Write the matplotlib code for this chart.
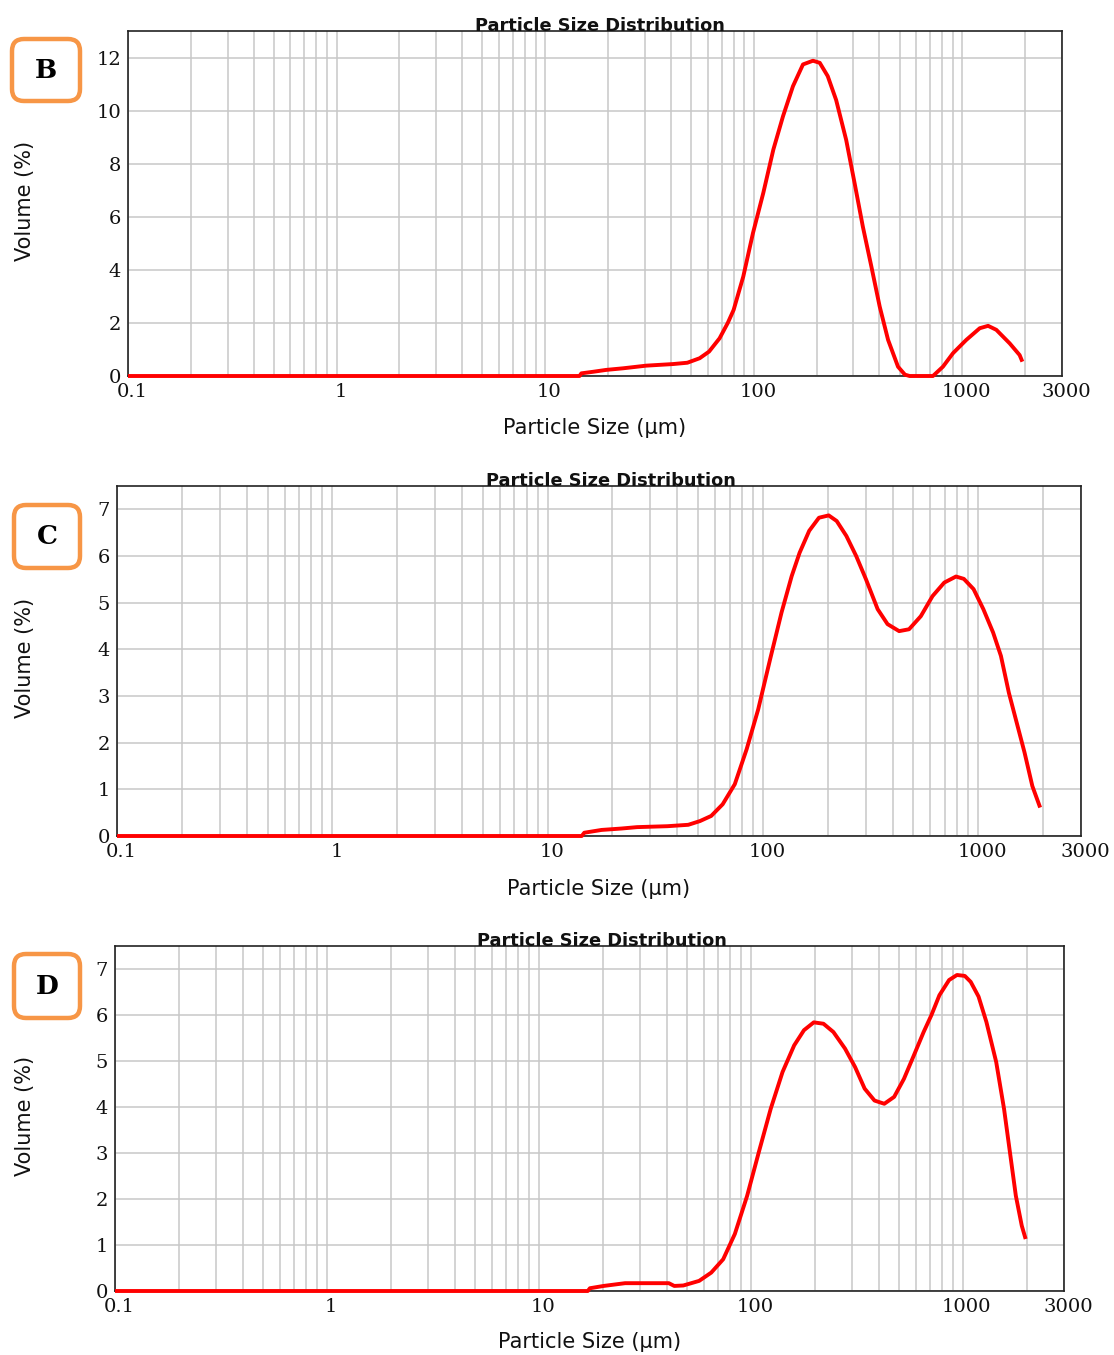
import matplotlib
matplotlib.use("Agg")
import matplotlib.pyplot as plt
import matplotlib.transforms as mtransforms
from matplotlib.patches import FancyBboxPatch
from matplotlib.ticker import LogLocator, NullFormatter

# particle size (um) / volume (%)
size_b = [0.1, 14.6, 14.9, 17, 19.6, 23.6, 30.5, 41, 48, 55, 61, 68.5, 75, 80, 89, 99,
          111, 124, 138, 154, 172, 192, 207, 226, 248, 277, 304, 333, 366, 401, 440,
          491, 530, 558, 722, 806, 901, 1043, 1210, 1327, 1453, 1684, 1879, 1937]
vol_b = [0, 0, 0.1, 0.16, 0.23, 0.29, 0.39, 0.45, 0.5, 0.67, 0.92, 1.42, 2.0, 2.49, 3.75, 5.38,
         6.9, 8.53, 9.79, 10.92, 11.74, 11.88, 11.8, 11.3, 10.4, 8.9, 7.27, 5.63, 4.12, 2.62, 1.36,
         0.35, 0.05, 0, 0, 0.35, 0.86, 1.36, 1.8, 1.89, 1.74, 1.23, 0.79, 0.54]

size_c = [0.1, 14.4, 14.8, 17.8, 22, 26, 36, 45, 51, 57.5, 65, 74, 84, 95, 108, 122, 136,
          148, 164, 182, 202, 220, 244, 271, 301, 341, 379, 429, 477, 541, 613, 695, 788,
          857, 951, 1056, 1172, 1274, 1387, 1508, 1640, 1783, 1938]
vol_c = [0, 0, 0.07, 0.13, 0.16, 0.19, 0.21, 0.24, 0.32, 0.43, 0.68, 1.11, 1.86, 2.71, 3.79, 4.79, 5.57,
         6.07, 6.54, 6.82, 6.87, 6.75, 6.43, 6.0, 5.5, 4.86, 4.54, 4.39, 4.43, 4.71, 5.14, 5.43, 5.56,
         5.51, 5.29, 4.86, 4.36, 3.86, 3.07, 2.43, 1.79, 1.07, 0.61]

size_d = [0.1, 17, 17.4, 20.2, 25.5, 33, 41, 43.5, 48, 57, 65, 74, 84, 96, 109, 124, 141,
          160, 178, 198, 220, 245, 278, 310, 344, 383, 426, 474, 527, 587, 653, 711, 775,
          861, 938, 1021, 1089, 1186, 1291, 1436, 1564, 1667, 1778, 1896, 1978]
vol_d = [0, 0, 0.06, 0.11, 0.17, 0.17, 0.17, 0.11, 0.12, 0.22, 0.4, 0.69, 1.24, 2.07, 3.02, 3.96, 4.76,
         5.34, 5.67, 5.84, 5.81, 5.63, 5.27, 4.87, 4.4, 4.14, 4.07, 4.22, 4.61, 5.12, 5.63, 6.0, 6.43,
         6.76, 6.87, 6.85, 6.72, 6.4, 5.85, 4.98, 3.96, 3.02, 2.07, 1.42, 1.13]

x_ticks = [0.1, 1, 10, 100, 1000, 3000]
x_tick_labels = ["0.1", "1", "10", "100", "1000", "3000"]
y_ticks_b = [0, 2, 4, 6, 8, 10, 12]
y_ticks_cd = [0, 1, 2, 3, 4, 5, 6, 7]
letters = ["B", "C", "D"]

W, H = 1114, 1355
fig = plt.figure(figsize=(W / 100, H / 100), dpi=100)


def px_rect(left, top, right, bottom):
    return [left / W, 1 - bottom / H, (right - left) / W, (bottom - top) / H]


def draw_panel(ax, sizes, vols, yticks, ymax, title_x):
    ax.set_xscale("log")
    ax.set_xlim(0.1, 3000)
    ax.set_ylim(0, ymax)
    ax.xaxis.set_minor_locator(LogLocator(base=10, subs=range(2, 10), numticks=20))
    ax.xaxis.set_minor_formatter(NullFormatter())
    ax.set_xticks(x_ticks)
    ax.set_xticklabels(x_tick_labels)
    ax.set_yticks(yticks)
    ax.grid(True, which="both", axis="x", color="#c8c8c8", linewidth=1.1)
    ax.grid(True, which="major", axis="y", color="#c8c8c8", linewidth=1.1)
    ax.set_axisbelow(True)
    ax.tick_params(which="both", length=0, labelsize=14, colors="#111111")
    ax.tick_params(axis="x", pad=5)
    ax.tick_params(axis="y", pad=5)
    for lbl in ax.get_xticklabels() + ax.get_yticklabels():
        lbl.set_fontfamily("DejaVu Serif")
    shift = mtransforms.ScaledTranslation(0.04, 0, fig.dpi_scale_trans)
    for lbl in ax.get_xticklabels():
        lbl.set_transform(lbl.get_transform() + shift)
    for sp in ax.spines.values():
        sp.set_color("#222222")
        sp.set_linewidth(1.2)
    ax.plot(sizes, vols, color="#ff0000", linewidth=2.8, clip_on=False,
            solid_joinstyle="round", solid_capstyle="butt", zorder=3)
    ax.text(title_x, 1.0, "Particle Size Distribution", transform=ax.transAxes,
            ha="center", va="baseline", fontsize=12.8, fontweight="bold",
            family="DejaVu Sans", color="#111111")


panels = [
    (size_b, vol_b, y_ticks_b, 13, px_rect(128, 31, 1062, 376), 0.505, 428, 201, (10, 37, 82, 103)),
    (size_c, vol_c, y_ticks_cd, 7.5, px_rect(117, 486, 1081, 836), 0.512, 889, 658, (12, 503, 82, 570)),
    (size_d, vol_d, y_ticks_cd, 7.5, px_rect(115, 946, 1064, 1291), 0.513, 1342, 1116, (12, 952, 82, 1020)),
]

for letter, (sizes, vols, yticks, ymax, rect, tx, xlab_y, ylab_y, box) in zip(letters, panels):
    ax = fig.add_axes(rect)
    draw_panel(ax, sizes, vols, yticks, ymax, tx)
    cx = rect[0] + rect[2] / 2
    fig.text(cx, 1 - xlab_y / H, "Particle Size (μm)", ha="center", va="center",
             fontsize=15, family="DejaVu Sans", color="#111111")
    fig.text(25 / W, 1 - ylab_y / H, "Volume (%)", rotation=90, ha="center", va="center",
             fontsize=15, family="DejaVu Sans", color="#111111")
    bx0, by0, bx1, by1 = box
    patch = FancyBboxPatch(((bx0 + 2) / 100, (H - by1 + 2) / 100),
                           (bx1 - bx0 - 4) / 100, (by1 - by0 - 4) / 100,
                           boxstyle="round,pad=0,rounding_size=0.12",
                           transform=fig.dpi_scale_trans,
                           facecolor="white", edgecolor="#f79646", linewidth=3.2)
    fig.add_artist(patch)
    fig.text((bx0 + bx1) / 2 / W, 1 - (by0 + by1) / 2 / H, letter, ha="center", va="center",
             fontsize=19, fontweight="bold", family="DejaVu Serif", color="black")

fig.savefig("out.png", dpi=100)
